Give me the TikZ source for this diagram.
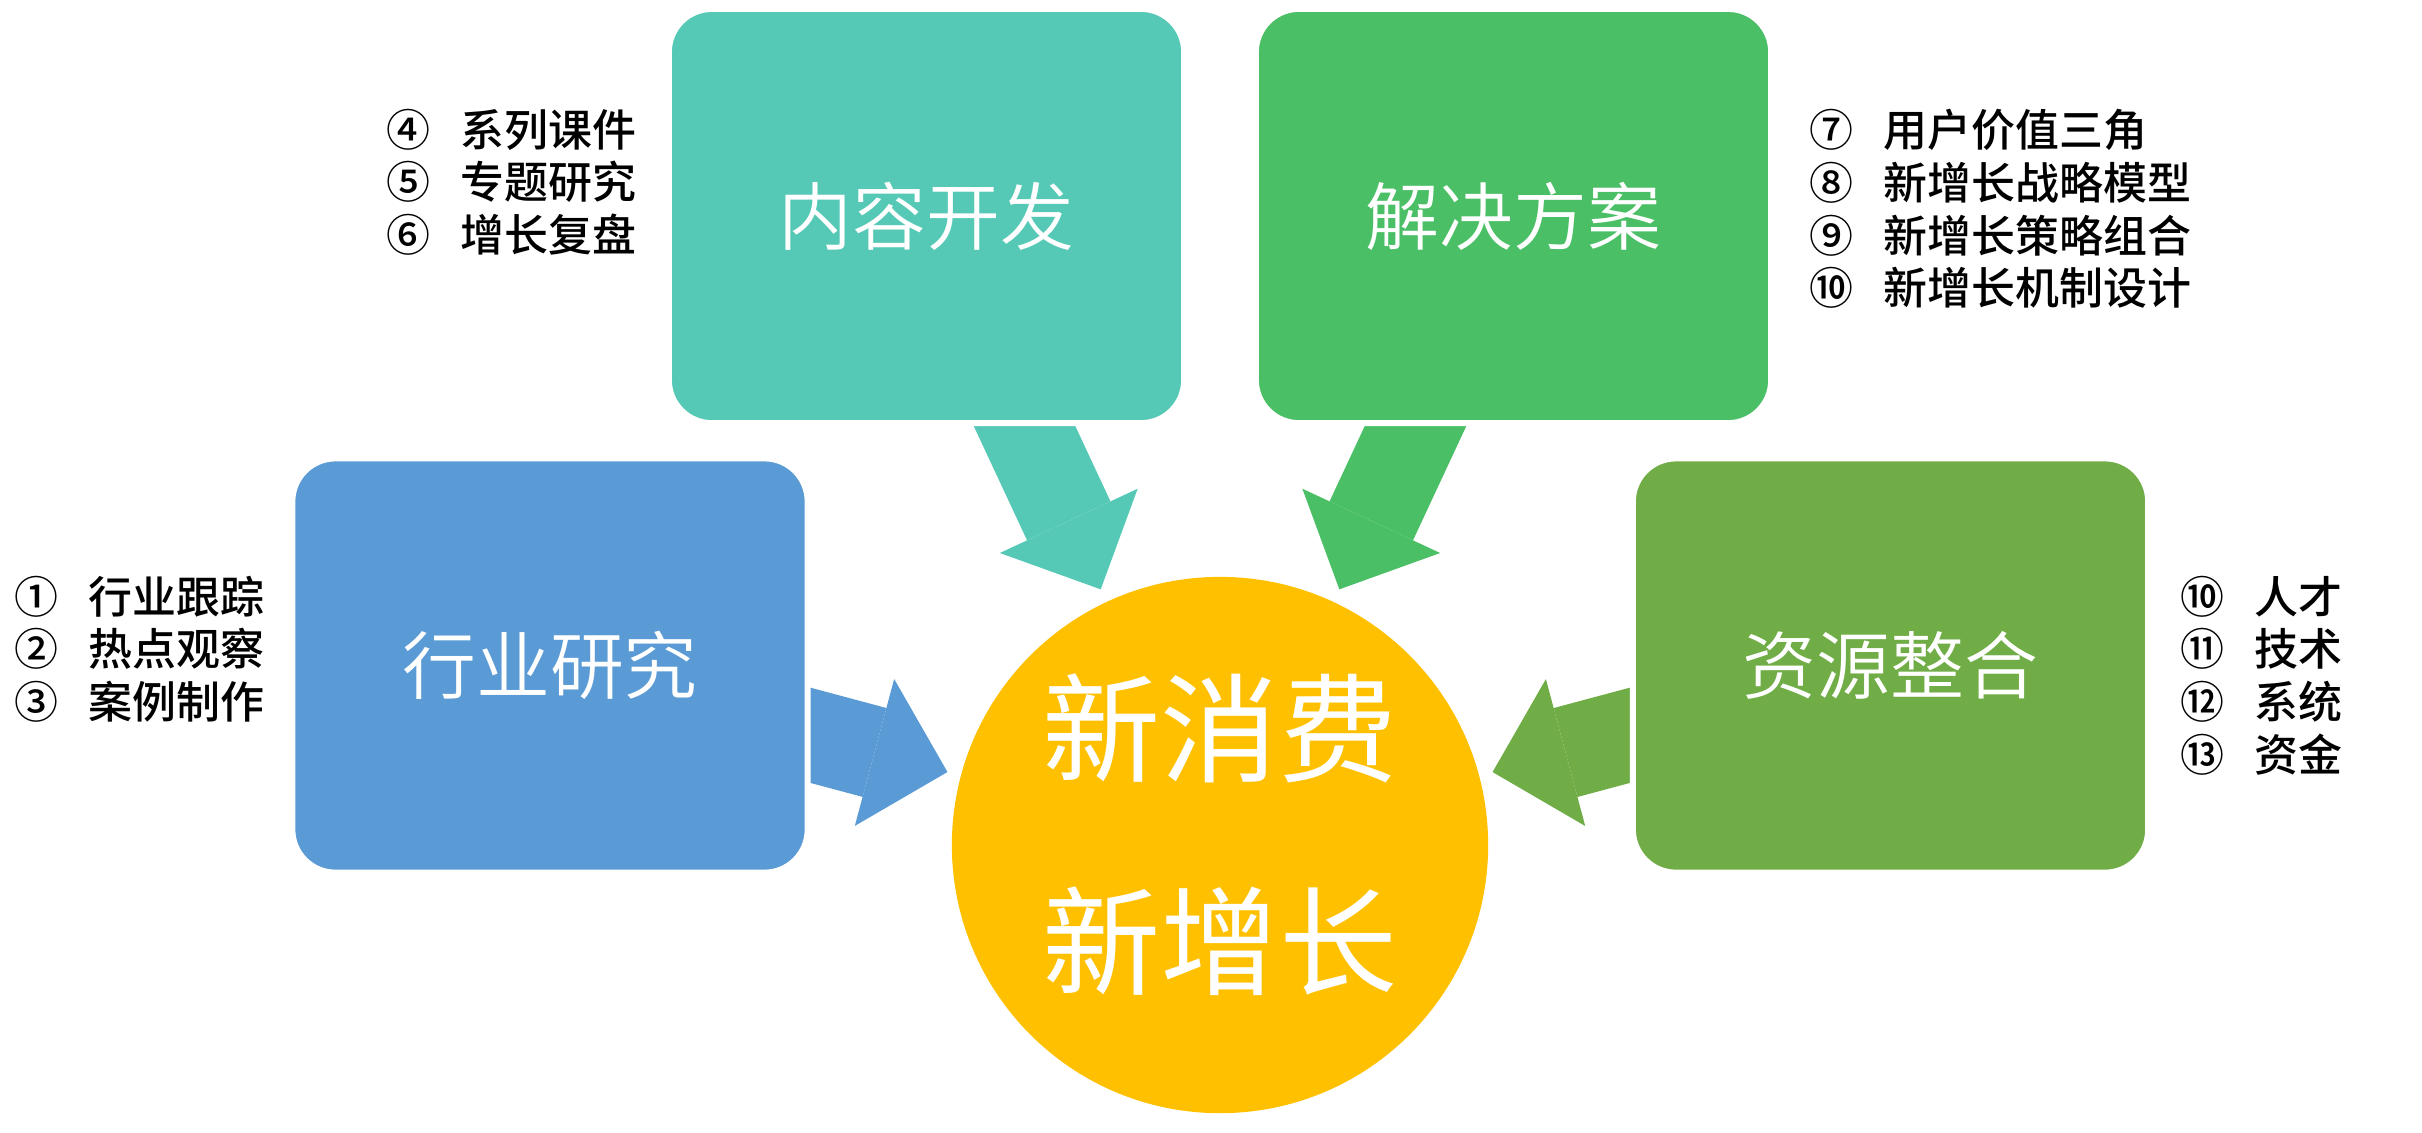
\documentclass[tikz,border=0pt]{standalone}
\usepackage{fontspec}
\setmainfont{Noto Sans CJK SC}
\newfontfamily\thinfont{Noto Sans CJK SC}[UprightFont={* DemiLight}]
\newfontfamily\notefont{Noto Sans CJK SC}[UprightFont={* Medium}]
\usetikzlibrary{arrows.meta,backgrounds}
\definecolor{devteal}{HTML}{55C9B6}
\definecolor{solgreen}{HTML}{4BBF66}
\definecolor{resblue}{HTML}{5B9BD5}
\definecolor{intgreen}{HTML}{70AD47}
\definecolor{hubgold}{HTML}{FFC000}
\newcommand{\numitem}[2]{\makebox[0.74cm][l]{#1}#2}

\begin{document}
\begin{tikzpicture}[x=0.01cm,y=-0.01cm,
box/.style={rectangle,rounded corners=0.43cm,minimum width=5.15cm,minimum height=4.14cm,draw=white,line width=0.06cm,text=white,inner sep=0,font=\thinfont\fontsize{21pt}{25pt}\selectfont},
notes/.style={anchor=west,align=left,inner sep=0,font=\notefont\fontsize{12.5pt}{14.94pt}\selectfont},
flow/.style={line width=0.92cm,-{Triangle[length=0.755cm,width=1.52cm,line width=0pt]},shorten >=0.14cm}
]
\useasboundingbox (0,0) rectangle (2422,1132);

\node[circle,fill=hubgold,minimum size=5.36cm,inner sep=0,outer sep=0] (hub) at (1220,845) {};
\node[text=white,align=center,font=\fontsize{33.6pt}{60.5pt}\selectfont] (hubtext) at (1220,835) {新消费\\新增长};

\node[box,fill=devteal] (dev) at (926.5,216) {内容开发};
\node[box,fill=solgreen] (sol) at (1513.5,216) {解决方案};
\node[box,fill=resblue] (res) at (550,665.5) {行业研究};
\node[box,fill=intgreen] (int) at (1890.5,665.5) {资源整合};

% block arrows behind the boxes
\begin{scope}[on background layer]
\draw[flow,devteal] (dev.center) -- (hub);
\draw[flow,solgreen] (sol.center) -- (hub);
\draw[flow,resblue] (res.center) -- (hub);
\draw[flow,intgreen] (int.center) -- (hub);
\end{scope}

\node[notes] (resnotes) at (14,649) {\numitem{①}{行业跟踪}\\\numitem{②}{热点观察}\\\numitem{③}{案例制作}};
\node[notes] (devnotes) at (386,182) {\numitem{④}{系列课件}\\\numitem{⑤}{专题研究}\\\numitem{⑥}{增长复盘}};
\node[notes] (solnotes) at (1809,209) {\numitem{⑦}{用户价值三角}\\\numitem{⑧}{新增长战略模型}\\\numitem{⑨}{新增长策略组合}\\\numitem{⑩}{新增长机制设计}};
\node[notes] (intnotes) at (2180,675.5) {\numitem{⑩}{人才}\\\numitem{⑪}{技术}\\\numitem{⑫}{系统}\\\numitem{⑬}{资金}};
\end{tikzpicture}
\end{document}
